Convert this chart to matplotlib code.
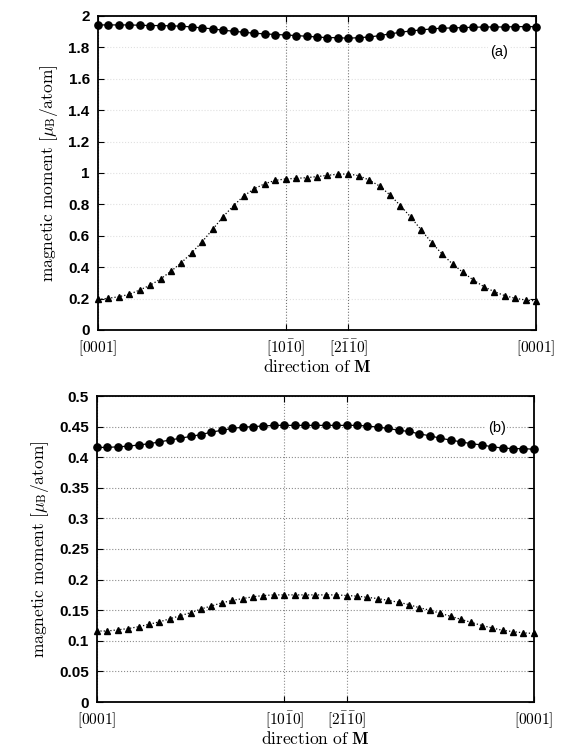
import matplotlib.pyplot as plt
from matplotlib.ticker import FuncFormatter, MultipleLocator

plt.rcParams['mathtext.fontset'] = 'cm'
plt.rcParams['font.family'] = ['Liberation Sans', 'DejaVu Sans']

# rotation angle of M (deg): [0001] -> [10-10] -> [2-1-10] -> [0001]
angle = list(range(0, 215, 5))

# panel (a)
circles_a = [1.943, 1.943, 1.943, 1.943, 1.941, 1.939, 1.939, 1.937, 1.935, 1.930,
             1.924, 1.918, 1.909, 1.903, 1.896, 1.890, 1.886, 1.882, 1.879,
             1.875, 1.871, 1.866, 1.862, 1.862, 1.858, 1.862, 1.866, 1.875, 1.886,
             1.896, 1.905, 1.911, 1.918, 1.922, 1.924, 1.926, 1.928, 1.930, 1.930,
             1.930, 1.932, 1.932, 1.932]
triangles_a = [0.195, 0.202, 0.212, 0.227, 0.255, 0.285, 0.325, 0.374, 0.429, 0.492,
               0.563, 0.641, 0.722, 0.792, 0.855, 0.900, 0.932, 0.953, 0.962,
               0.966, 0.970, 0.977, 0.985, 0.992, 0.994, 0.983, 0.955,
               0.917, 0.860, 0.792, 0.718, 0.637, 0.556, 0.484, 0.420, 0.367, 0.318,
               0.276, 0.244, 0.219, 0.202, 0.191, 0.185]

# panel (b)
circles_b = [0.416, 0.416, 0.417, 0.418, 0.420, 0.422, 0.425, 0.428, 0.431, 0.434,
             0.437, 0.441, 0.444, 0.447, 0.449, 0.450, 0.451, 0.452, 0.452,
             0.452, 0.452, 0.452, 0.452, 0.452, 0.452, 0.452,
             0.451, 0.449, 0.447, 0.444, 0.442, 0.438, 0.435, 0.431, 0.428, 0.425,
             0.422, 0.420, 0.417, 0.415, 0.414, 0.414, 0.413]
triangles_b = [0.116, 0.116, 0.118, 0.120, 0.123, 0.127, 0.131, 0.136, 0.141, 0.146,
               0.152, 0.157, 0.162, 0.166, 0.169, 0.172, 0.174, 0.175, 0.175,
               0.175, 0.175, 0.175, 0.175, 0.175, 0.174,
               0.173, 0.171, 0.169, 0.166, 0.163, 0.159, 0.154, 0.150, 0.145, 0.140,
               0.135, 0.130, 0.125, 0.121, 0.117, 0.115, 0.113, 0.112]

dir_ticks = [0, 90, 120, 210]
dir_labels = [r'$\mathrm{[0001]}$', r'$\mathrm{[10\bar{1}0]}$',
              r'$\mathrm{[2\bar{1}\bar{1}0]}$', r'$\mathrm{[0001]}$']

ylabel = r'$\mathrm{magnetic\ moment}\ [\mu_{\mathrm{B}}/\mathrm{atom}]$'
xlabel = r'$\mathrm{direction\ of}\ \mathbf{M}$'

fig = plt.figure(figsize=(5.71, 7.5), dpi=100)


def setup(ax, ymax, ystep, tag, tag_y, xgrid_color, ygrid_color):
    ax.set_xlim(0, 210)
    ax.set_ylim(0, ymax)
    ax.set_xticks(dir_ticks)
    ax.set_xticklabels(dir_labels, fontsize=12.5)
    ax.yaxis.set_major_locator(MultipleLocator(ystep))
    ax.yaxis.set_major_formatter(FuncFormatter(lambda v, p: '%g' % round(v, 3)))
    ax.tick_params(direction='in', length=4, width=0.8, top=True, right=True,
                   labelsize=11)
    ax.tick_params(axis='x', pad=6)
    ax.tick_params(axis='y', pad=6)
    for lbl in ax.get_yticklabels():
        lbl.set_fontweight('bold')
    for s in ax.spines.values():
        s.set_linewidth(1.3)
    ax.xaxis.grid(True, linestyle=':', linewidth=0.8, color=xgrid_color)
    ax.yaxis.grid(True, linestyle=':', linewidth=0.8, color=ygrid_color)
    ax.set_axisbelow(True)
    ax.set_ylabel(ylabel, fontsize=12.5, labelpad=6)
    ax.set_xlabel(xlabel, fontsize=12.5, labelpad=-1)
    ax.text(0.915, tag_y, tag, transform=ax.transAxes,
            fontsize=10.5, ha='center', va='center',
            bbox=dict(facecolor='white', edgecolor='none', pad=1))


ax1 = fig.add_axes([0.1716, 0.56, 0.7671, 0.4187])
ax1.plot(angle, circles_a, '-o', color='black', lw=0.9, ms=5.2, clip_on=False, zorder=3)
ax1.plot(angle, triangles_a, ':^', color='black', lw=0.9, ms=5, clip_on=False, zorder=3)
setup(ax1, 2, 0.2, '(a)', 0.885, '0.45', '0.88')

ax2 = fig.add_axes([0.170, 0.064, 0.765, 0.408])
ax2.plot(angle, circles_b, '-o', color='black', lw=0.9, ms=5.2, clip_on=False, zorder=3)
ax2.plot(angle, triangles_b, ':^', color='black', lw=0.9, ms=5, clip_on=False, zorder=3)
setup(ax2, 0.5, 0.05, '(b)', 0.894, '0.55', '0.55')

fig.savefig('out.png', dpi=100)
